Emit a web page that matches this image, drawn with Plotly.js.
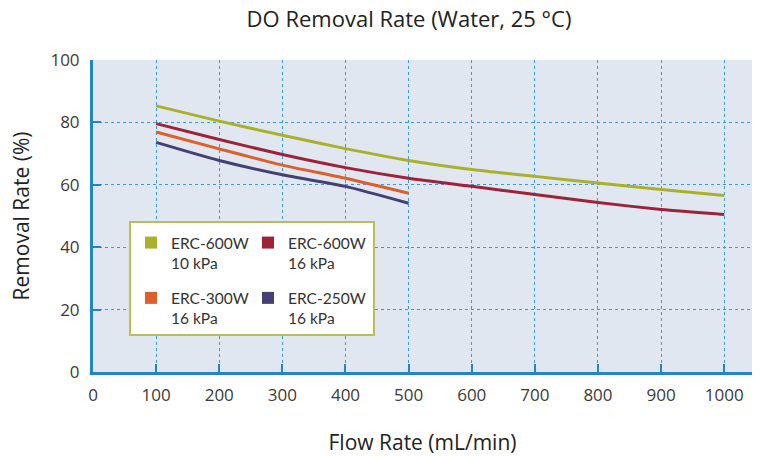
<!DOCTYPE html>
<html>
<head>
<meta charset="utf-8">
<script src="https://cdn.plot.ly/plotly-3.0.1.min.js"></script>
<style>html,body{margin:0;padding:0;background:#fff;}#chart{width:765px;height:456px;}</style>
</head>
<body>
<div id="chart"></div>
<script>
// ---- data ----
var flowLong = [100, 200, 300, 400, 500, 600, 700, 800, 900, 1000];
var flowShort = [100, 200, 300, 400, 500];
var erc600w10 = [85.3, 80.4, 75.9, 71.6, 67.8, 64.9, 62.7, 60.6, 58.5, 56.6];
var erc600w16 = [79.6, 74.5, 69.7, 65.5, 62.1, 59.5, 56.9, 54.3, 52.1, 50.5];
var erc300w16 = [76.9, 71.5, 66.3, 62.1, 57.3];
var erc250w16 = [73.6, 67.8, 63.2, 59.5, 54.1];
var seriesNames = ['ERC-600W<br>10 kPa', 'ERC-600W<br>16 kPa', 'ERC-300W<br>16 kPa', 'ERC-250W<br>16 kPa'];
var seriesColors = ['#a9b12b', '#9e2339', '#de5f29', '#453f74'];
var xTicks = [0, 100, 200, 300, 400, 500, 600, 700, 800, 900, 1000];
var yTicks = [0, 20, 40, 60, 80, 100];

var lineData = [
  {x: flowLong, y: erc600w10},
  {x: flowLong, y: erc600w16},
  {x: flowShort, y: erc300w16},
  {x: flowShort, y: erc250w16}
];
var legendFor = ['legend', 'legend2', 'legend', 'legend2'];

var traces = [];
lineData.forEach(function (d, i) {
  traces.push({
    type: 'scatter', mode: 'lines', x: d.x, y: d.y,
    line: {color: seriesColors[i], width: 3, shape: 'spline', smoothing: 0.6},
    showlegend: false, hoverinfo: 'x+y', name: seriesNames[i].replace('<br>', ' ')
  });
});
lineData.forEach(function (d, i) {
  traces.push({
    type: 'scatter', mode: 'markers', x: [null], y: [null],
    marker: {symbol: 'square', size: 12, color: seriesColors[i]},
    name: seriesNames[i], legend: legendFor[i], legendgroup: 'g' + i, showlegend: true
  });
});

var FONT = 'Lato, "Open Sans", sans-serif';
var TFONT = '"Open Sans", Lato, sans-serif';
var axisBlue = '#1f86c9';
var gridBlue = '#3a9ade';

var legendCommon = {
  orientation: 'v', bgcolor: 'rgba(0,0,0,0)', borderwidth: 0,
  font: {family: FONT, size: 15.5, color: '#333'},
  valign: 'top', tracegroupgap: 12, xanchor: 'left', yanchor: 'top'
};

var layout = {
  width: 765, height: 456,
  margin: {l: 93, r: 13, t: 60, b: 84},
  paper_bgcolor: '#ffffff', plot_bgcolor: '#e1e7f0',
  font: {family: FONT, color: '#333'},
  title: {text: 'DO Removal Rate (Water, 25 °C)', font: {family: TFONT, size: 22, color: '#222'},
          xref: 'container', x: 409 / 765, xanchor: 'center', yref: 'container', y: 1 - 19 / 456, yanchor: 'middle'},
  xaxis: {
    range: [0, 1044], tickvals: xTicks, ticktext: xTicks.map(String),
    showline: true, linecolor: axisBlue, linewidth: 3,
    ticks: 'inside', ticklen: 8, tickwidth: 2, tickcolor: axisBlue,
    showgrid: true, gridcolor: gridBlue, gridwidth: 1, griddash: 'dot',
    zeroline: false, tickfont: {family: TFONT, size: 17, color: '#3a3a3a'},
    ticklabelstandoff: 6,
    title: {text: 'Flow Rate (mL/min)', font: {family: TFONT, size: 21, color: '#222'}, standoff: 30}
  },
  yaxis: {
    range: [0, 100], tickvals: yTicks, ticktext: yTicks.map(String),
    showline: true, linecolor: axisBlue, linewidth: 3,
    ticks: 'inside', ticklen: 8, tickwidth: 2, tickcolor: axisBlue,
    showgrid: true, gridcolor: gridBlue, gridwidth: 1, griddash: 'dot',
    zeroline: false, tickfont: {family: TFONT, size: 17, color: '#3a3a3a'},
    ticklabelstandoff: 7,
    title: {text: 'Removal Rate (%)', font: {family: TFONT, size: 21, color: '#222'}, standoff: 16}
  },
  shapes: [{
    type: 'rect', xref: 'paper', yref: 'paper', layer: 'above',
    x0: (130 - 93) / 659, x1: (374 - 93) / 659, y0: (372 - 335) / 312, y1: (372 - 222) / 312,
    fillcolor: '#ffffff', line: {color: '#b9c04f', width: 2}
  }],
  legend: Object.assign({}, legendCommon, {x: (131 - 93) / 659, y: (372 - 226) / 312}),
  legend2: Object.assign({}, legendCommon, {x: (248 - 93) / 659, y: (372 - 226) / 312}),
  showlegend: true
};

Plotly.newPlot('chart', traces, layout, {displayModeBar: false, staticPlot: true});
</script>
</body>
</html>
